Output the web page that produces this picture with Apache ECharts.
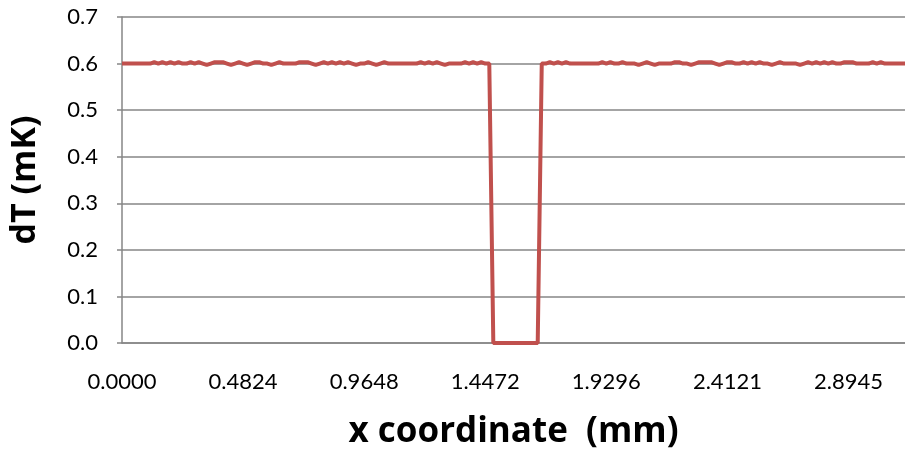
<!DOCTYPE html>
<html>
<head>
<meta charset="utf-8">
<script src="https://cdn.jsdelivr.net/npm/echarts@6/dist/echarts.min.js"></script>
<style>
html,body{margin:0;padding:0;background:#fff;}
#main{width:905px;height:450px;}
</style>
</head>
<body>
<div id="main"></div>
<script>
// x 方向的采样步长 (mm)，类目轴每 30 个点显示一个标签
var xStep = 3.2 / 199;
var labelEvery = 30;

// dT (mK)
var dT = [
	0.6,0.6,0.6,0.6,0.6,0.6,0.6,0.6,0.603,0.6,
	0.603,0.6,0.603,0.6,0.603,0.6,0.6,0.603,0.6,0.603,
	0.6,0.597,0.6,0.603,0.603,0.603,0.6,0.597,0.6,0.603,
	0.6,0.597,0.6,0.603,0.603,0.6,0.6,0.597,0.6,0.603,
	0.6,0.6,0.6,0.6,0.603,0.603,0.603,0.6,0.597,0.6,
	0.603,0.6,0.603,0.6,0.603,0.6,0.603,0.6,0.597,0.6,
	0.6,0.603,0.6,0.597,0.6,0.603,0.6,0.6,0.6,0.6,
	0.6,0.6,0.6,0.6,0.603,0.6,0.603,0.6,0.603,0.6,
	0.597,0.6,0.6,0.6,0.6,0.603,0.6,0.603,0.6,0.603,
	0.6,0.6,0,0,0,0,0,0,0,0,
	0,0,0,0,0.6,0.6,0.603,0.6,0.603,0.6,
	0.603,0.6,0.6,0.6,0.6,0.6,0.6,0.6,0.6,0.603,
	0.6,0.603,0.6,0.6,0.603,0.6,0.6,0.6,0.597,0.6,
	0.603,0.6,0.597,0.6,0.6,0.6,0.6,0.603,0.603,0.6,
	0.6,0.597,0.6,0.603,0.603,0.603,0.603,0.6,0.597,0.6,
	0.603,0.603,0.6,0.6,0.603,0.6,0.603,0.6,0.603,0.6,
	0.6,0.597,0.6,0.603,0.6,0.6,0.6,0.6,0.597,0.6,
	0.603,0.6,0.603,0.6,0.603,0.6,0.603,0.6,0.6,0.603,
	0.603,0.603,0.6,0.6,0.6,0.6,0.603,0.6,0.603,0.6,
	0.6,0.6,0.6,0.6,0.6
];

var xCoord = [];
for(var i=0; i<dT.length; i++){
	xCoord.push((i*xStep).toFixed(4));
}

var myChart = echarts.init(document.getElementById('main'));
var option = {
	animation: false,
	grid: {
		left: 122,
		right: 0,
		top: 17,
		bottom: 107,
		outerBoundsMode: 'none'
	},
	xAxis: {
		type: 'category',
		data: xCoord,
		boundaryGap: false,
		name: 'x coordinate  (mm)',
		nameLocation: 'middle',
		nameGap: 72,
		nameTextStyle: {fontFamily: 'Open Sans', fontWeight: 'bold', fontSize: 35, color: '#000'},
		axisLine: {lineStyle: {color: '#868686', width: 1.5}},
		axisTick: {show: false},
		axisLabel: {
			interval: labelEvery - 1,
			margin: 28,
			fontFamily: 'Lato',
			fontSize: 22,
			color: '#000'
		},
		splitLine: {show: false}
	},
	yAxis: {
		type: 'value',
		min: 0,
		max: 0.7,
		interval: 0.1,
		name: 'dT (mK)',
		nameLocation: 'middle',
		nameGap: 80,
		nameTextStyle: {fontFamily: 'Open Sans', fontWeight: 'bold', fontSize: 34, color: '#000'},
		axisLine: {show: true, lineStyle: {color: '#868686', width: 1.5}},
		axisTick: {show: true, inside: false, length: 5, lineStyle: {color: '#868686', width: 1.5}},
		axisLabel: {
			margin: 24,
			fontFamily: 'Lato',
			fontSize: 22,
			color: '#000',
			formatter: function(v){ return v.toFixed(1); }
		},
		splitLine: {lineStyle: {color: '#868686', width: 1.5}}
	},
	series: [{
		type: 'line',
		data: dT,
		symbol: 'none',
		smooth: false,
		lineStyle: {color: '#C0504D', width: 4},
		itemStyle: {color: '#C0504D'}
	}]
};
myChart.setOption(option);
</script>
</body>
</html>
